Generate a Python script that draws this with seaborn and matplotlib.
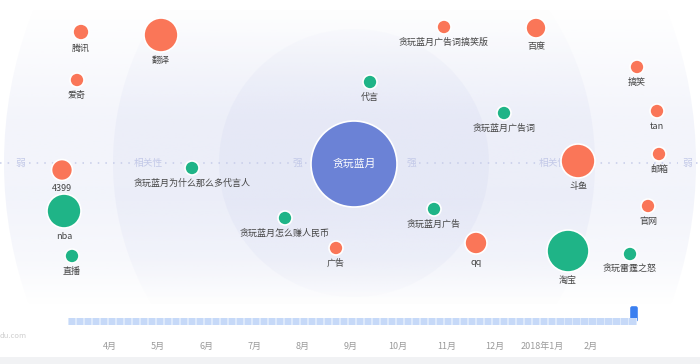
import numpy as np
import pandas as pd
import matplotlib
matplotlib.use("Agg")
import matplotlib.pyplot as plt
import seaborn as sns
from matplotlib.patches import Ellipse, FancyBboxPatch
from matplotlib.colors import to_rgb

sns.set_theme(style="white")
plt.rcParams["font.family"] = ["Noto Sans CJK SC", "DejaVu Sans"]

# ---------------- data ----------------
keywords = ["贪玩蓝月", "腾讯", "翻译", "爱奇", "贪玩蓝月广告词搞笑版", "百度", "搞笑", "代言",
            "贪玩蓝月广告词", "tan", "4399", "贪玩蓝月为什么那么多代言人", "nba", "直播",
            "贪玩蓝月怎么赚人民币", "广告", "斗鱼", "邮箱", "贪玩蓝月广告", "官网", "qq", "淘宝",
            "贪玩雷霆之怒"]
rel_x = [354, 81, 161, 77, 444, 536, 637, 370, 504, 657, 62, 192, 64, 72, 285, 336, 578, 659,
         434, 648, 476, 568, 630]
rel_y = [164, 32, 35, 80, 27, 28, 67, 82, 113, 111, 170, 168, 211, 256, 218, 248, 161, 154,
         209, 206, 243, 251, 254]
heat = [18490, 640, 2890, 490, 490, 1000, 490, 490, 490, 490, 1100, 490, 2890, 490, 490, 490,
        2890, 490, 490, 490, 1210, 4410, 490]
trend = ["中心词", "下降", "下降", "下降", "下降", "下降", "下降", "上升", "上升", "下降", "下降",
         "上升", "上升", "上升", "上升", "下降", "下降", "下降", "上升", "下降", "下降", "上升", "上升"]
axis_labels = ["弱", "相关性", "强", "强", "相关性", "弱"]
axis_label_x = [20, 148, 297, 411, 553, 687]
months = ["4月", "5月", "6月", "7月", "8月", "9月", "10月", "11月", "12月", "2018年1月", "2月"]

df = pd.DataFrame({"kw": keywords, "x": rel_x, "y": rel_y, "heat": heat, "trend": trend})

palette = {"中心词": "#6b82d6", "上升": "#1fb487", "下降": "#fa7658"}

W, H = 700, 364
fig = plt.figure(figsize=(W / 100, H / 100), dpi=100)
fig.patch.set_facecolor("white")
ax = fig.add_axes([0, 0, 1, 1])
ax.set_facecolor("white")

BASE = "#dde1f4"


def grad_ellipse(cx, cy, w, h, peak, z):
    e = Ellipse((cx, cy), w, h, transform=ax.transData, facecolor="none", edgecolor="none")
    ax.add_patch(e)
    n = 512
    yy = np.linspace(cy - h / 2, cy + h / 2, n)
    a = np.interp(yy, [8, 50, 120, 200, 260, 305], [0, 0.35, 0.95, 1.0, 0.6, 0]) * peak
    img = np.zeros((n, 1, 4))
    img[..., :3] = to_rgb(BASE)
    img[..., 3] = a[:, None]
    im = ax.imshow(img, extent=(cx - w / 2, cx + w / 2, cy + h / 2, cy - h / 2),
                   aspect="auto", zorder=z, interpolation="bilinear")
    im.set_clip_path(e)


grad_ellipse(350, 163, 692, 760, 0.36, 0)
grad_ellipse(354, 163, 482, 520, 0.32, 0.1)
grad_ellipse(354, 163, 270, 268, 0.42, 0.2)

# dotted relevance axis
segs = [(0, 11), (29, 133), (165, 289), (305, 312), (396, 403), (419, 538), (570, 678), (696, 700)]
for a0, a1 in segs:
    ax.plot([a0, a1], [163, 163], ls=(0, (1, 4)), color="#c6cce9", lw=1.1, zorder=0.5)
for lab, lx in zip(axis_labels, axis_label_x):
    ax.text(lx, 163, lab, ha="center", va="center", fontsize=7, color="#c3c9e8", zorder=0.6)

# bubbles
vmax = max(heat)
sns.scatterplot(data=df, x="x", y="y", hue="trend", palette=palette, size="heat",
                sizes=(0, 0.20736 * vmax), size_norm=(0, vmax), edgecolor="white",
                linewidth=1.2, alpha=1, legend=False, ax=ax, zorder=3)

for kw, x, y, hv, tr in zip(keywords, rel_x, rel_y, heat, trend):
    r = np.sqrt(hv / 10)
    if tr == "中心词":
        ax.text(x, y, kw, ha="center", va="center", fontsize=7.8, color="white", zorder=4)
    else:
        ax.text(x, y + r + 8.5, kw, ha="center", va="center", fontsize=6.5, color="#444444",
                zorder=4)

# bottom decorations
ax.add_patch(plt.Rectangle((0, 357), 700, 7, color="#f1f2f4", zorder=1, lw=0))
ax.text(0, 336, "du.com", ha="left", va="center", fontsize=5.5, color="#cfcfcf")
ax.add_patch(FancyBboxPatch((631, 307), 6, 14, boxstyle="round,pad=0.8,rounding_size=2",
                            color="#3a7ff0", zorder=6, lw=0))

ax.set_xlim(0, W)
ax.set_ylim(H, 0)
ax.axis("off")

# timeline
tl = fig.add_axes([68 / W, (H - 325) / H, (637 - 68) / W, 7 / H])
tl.axvspan(-0.875, 10.97, color="#dde9fb", lw=0)
xs = np.arange(-0.875 + 1 / 12, 10.97, 1 / 6)
tl.bar(xs, np.ones_like(xs), width=0.13, color="#c6d9f8", lw=0)
tl.set_xlim(-0.875, 10.97)
tl.set_ylim(0, 1)
tl.set_xticks(range(len(months)))
tl.set_xticklabels(months, fontsize=6.5, color="#9a9a9a")
tl.tick_params(axis="x", length=0, pad=12)
tl.set_yticks([])
for s in tl.spines.values():
    s.set_visible(False)
tl.set_facecolor("none")

fig.savefig("out.png", dpi=100)
